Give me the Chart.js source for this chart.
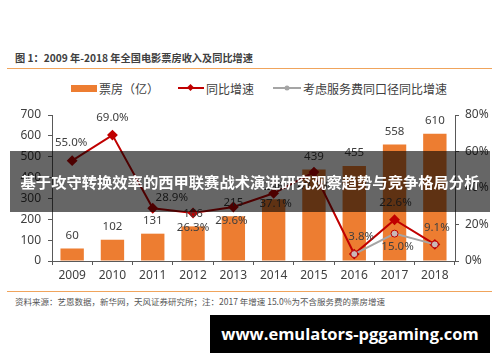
<!DOCTYPE html>
<html>
<head>
<meta charset="utf-8">
<script src="https://cdn.jsdelivr.net/npm/chart.js@4"></script>
<style>
  html, body { margin: 0; padding: 0; background: #fff; }
  #wrap { position: relative; width: 500px; height: 362px; overflow: hidden; font-family: "Noto Sans CJK SC", sans-serif; }
  .abs { position: absolute; }
  #title { left: 15px; top: 50px; font-size: 10.2px; font-weight: bold; color: #404040; white-space: nowrap; }
  .rule { left: 7px; width: 485px; height: 1px; background: #f0a45c; }
  #legend { left: 0; top: 79px; width: 500px; height: 18px; font-size: 12px; color: #404040; }
  .lg { position: absolute; top: 0; display: flex; align-items: center; white-space: nowrap; height: 18px; }
  #note { left: 15px; top: 295px; font-size: 8.5px; color: #555; white-space: nowrap; }
  #band { left: 10px; top: 151px; width: 480px; height: 61px; background: rgba(0,0,0,0.6); color: #fff; font-weight: bold; font-size: 15.3px; line-height: 61px; text-align: center; white-space: nowrap; letter-spacing: 0; }
  #mark { left: 210px; top: 315px; width: 280px; height: 38px; background: #000; color: #fff; font-family: "Open Sans", sans-serif; font-weight: bold; font-size: 16.5px; line-height: 38px; text-align: center; }
  #chartBox { left: 0; top: 100px; width: 500px; height: 185px; }
</style>
</head>
<body>
<div id="wrap">
  <div id="title" class="abs">图 1：2009 年-2018 年全国电影票房收入及同比增速</div>
  <div class="abs rule" style="top:68px"></div>
  <div id="legend" class="abs">
    <div class="lg" style="left:71px"><span style="display:inline-block;width:26px;height:7px;background:#ed7d31;margin-right:2px"></span>票房（亿）</div>
    <div class="lg" style="left:178px"><svg width="26" height="10"><line x1="0" y1="5" x2="26" y2="5" stroke="#c00000" stroke-width="2"/><rect x="10" y="2" width="5" height="5" fill="#c00000" transform="rotate(45 12.5 4.5)"/></svg><span style="margin-left:2px">同比增速</span></div>
    <div class="lg" style="left:273px"><svg width="28" height="10"><line x1="0" y1="5" x2="28" y2="5" stroke="#a5a5a5" stroke-width="2"/><circle cx="14" cy="5" r="2.5" fill="#a5a5a5"/></svg><span style="margin-left:2px">考虑服务费同口径同比增速</span></div>
  </div>
  <div id="chartBox" class="abs"><canvas id="boxChart" width="500" height="185"></canvas></div>
  <div class="abs rule" style="top:291px"></div>
  <div id="note" class="abs">资料来源：艺恩数据，新华网，天风证券研究所；注：2017 年增速 15.0%为不含服务费的票房增速</div>
  <div id="band" class="abs">基于攻守转换效率的西甲联赛战术演进研究观察趋势与竞争格局分析</div>
  <div id="mark" class="abs">www.emulators-pggaming.com</div>
</div>
<script>
// data
const years = ['2009', '2010', '2011', '2012', '2013', '2014', '2015', '2016', '2017', '2018'];
const boxOffice = [60, 102, 131, 166, 215, 296, 439, 455, 558, 610];
const growth = [55.0, 69.0, 28.9, 26.3, 29.6, 37.1, 48.7, 3.8, 22.6, 9.1];
const growthSameBasis = [null, null, null, null, null, null, null, 3.8, 15.0, 9.1];
const leftTicks = [0, 100, 200, 300, 400, 500, 600, 700];
const rightTicks = [0, 20, 40, 60, 80];

// label offsets (px) relative to each mark
const barLabelOffset = [0, -13];
const growthLabelOffsets = [[-1, -18], [0, -17], [19, -11], [0, 15], [-2, 14], [2, 10], [0, 14], [7, -17], [1, -17], [2, -17]];
const sameBasisLabelOffsets = [null, null, null, null, null, null, null, null, [3, 13], null];

const textColor = '#404040';
const numFont = '"Noto Sans", sans-serif';

const valueLabels = {
    id: 'valueLabels',
    afterDatasetsDraw(chart) {
        const ctx = chart.ctx;
        ctx.save();
        ctx.font = '11.5px ' + numFont;
        ctx.fillStyle = textColor;
        ctx.textAlign = 'center';
        ctx.textBaseline = 'middle';
        chart.data.datasets.forEach(function (ds, i) {
            const meta = chart.getDatasetMeta(i);
            meta.data.forEach(function (el, j) {
                const v = ds.data[j];
                if (v === null) return;
                let off, txt;
                if (ds.type === 'bar') {
                    off = barLabelOffset;
                    txt = String(v);
                } else {
                    off = ds.labelOffsets[j];
                    txt = v.toFixed(1) + '%';
                }
                if (!off) return;
                ctx.fillText(txt, el.x + off[0], el.y + off[1]);
            });
        });
        ctx.restore();
    }
};

const ctx = document.getElementById('boxChart').getContext('2d');
const chart = new Chart(ctx, {
    data: {
        labels: years,
        datasets: [{
            type: 'bar',
            label: '票房（亿）',
            data: boxOffice,
            backgroundColor: '#ed7d31',
            barPercentage: 0.58,
            categoryPercentage: 1,
            yAxisID: 'y',
            order: 3
        }, {
            type: 'line',
            label: '同比增速',
            data: growth,
            borderColor: '#c00000',
            borderWidth: 2,
            pointStyle: 'rectRot',
            pointRadius: 4,
            pointBackgroundColor: '#c00000',
            pointBorderColor: '#c00000',
            labelOffsets: growthLabelOffsets,
            yAxisID: 'y1',
            order: 2
        }, {
            type: 'line',
            label: '考虑服务费同口径同比增速',
            data: growthSameBasis,
            borderColor: '#a5a5a5',
            borderWidth: 2,
            pointStyle: 'circle',
            pointRadius: 3.5,
            pointBackgroundColor: '#c9b8b8',
            pointBorderColor: '#c00000',
            pointBorderWidth: 1,
            labelOffsets: sameBasisLabelOffsets,
            yAxisID: 'y1',
            order: 1
        }]
    },
    options: {
        responsive: false,
        animation: false,
        layout: { padding: { top: 15, left: 0, right: 0, bottom: 0 } },
        plugins: {
            legend: { display: false },
            tooltip: { enabled: false }
        },
        scales: {
            x: {
                grid: { drawOnChartArea: false, drawTicks: true, tickLength: 4, color: '#595959' },
                border: { color: '#595959', width: 1 },
                ticks: { color: textColor, font: { family: numFont, size: 12 }, padding: 3, maxRotation: 0 },
                afterFit: function (s) { s.height = 24; }
            },
            y: {
                position: 'left',
                min: 0,
                max: 700,
                afterBuildTicks: function (s) { s.ticks = leftTicks.map(function (v) { return { value: v }; }); },
                grid: { drawOnChartArea: false, drawTicks: true, tickLength: 4, color: '#595959' },
                border: { color: '#595959', width: 1 },
                ticks: { color: textColor, font: { family: numFont, size: 12 }, padding: 7 },
                afterFit: function (s) { s.width = 52; }
            },
            y1: {
                position: 'right',
                min: 0,
                max: 80,
                afterBuildTicks: function (s) { s.ticks = rightTicks.map(function (v) { return { value: v }; }); },
                grid: { drawOnChartArea: false, drawTicks: true, tickLength: 4, color: '#595959' },
                border: { color: '#595959', width: 1 },
                ticks: { color: textColor, font: { family: numFont, size: 12 }, padding: 6,
                    callback: function (v) { return v + '%'; } },
                afterFit: function (s) { s.width = 45; }
            }
        }
    },
    plugins: [valueLabels]
});
</script>
</body>
</html>
